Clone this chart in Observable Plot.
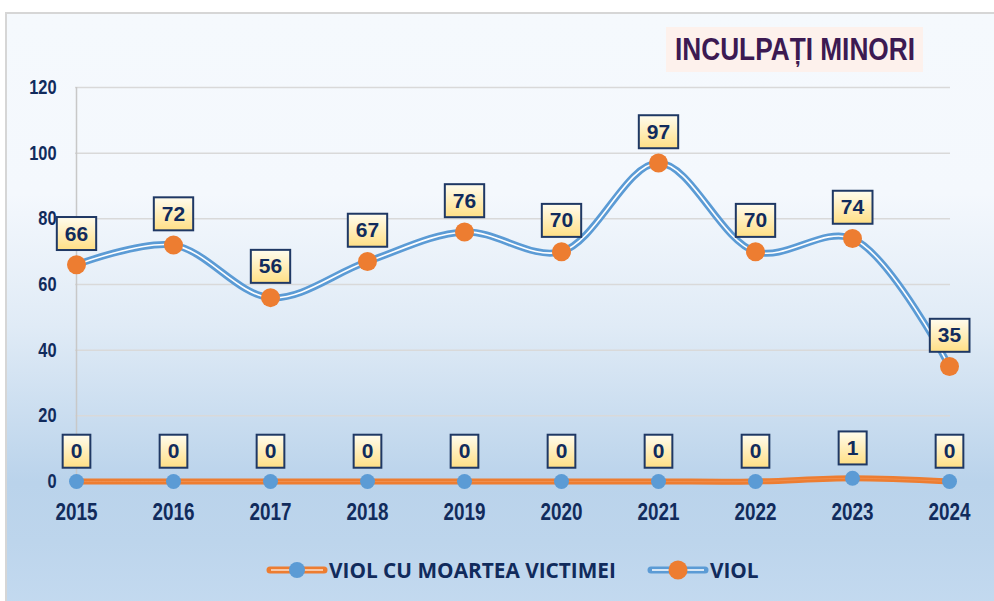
<!DOCTYPE html>
<html>
<head>
<meta charset="utf-8">
<script src="https://cdn.jsdelivr.net/npm/d3@7"></script>
<script src="https://cdn.jsdelivr.net/npm/@observablehq/plot@0.6"></script>
<style>
  html, body { margin: 0; padding: 0; background: #fff; }
  #wrap { position: relative; width: 994px; height: 601px; overflow: hidden; }
  #frame { position: absolute; left: 5px; top: 12px; width: 1000px; height: 600px;
    border-left: 2px solid #d6d6d6; border-top: 2px solid #d6d6d6;
    background: linear-gradient(to bottom, #f5f9fd 0%, #f4f8fd 30%, #e0ebf6 52%, #bad3eb 78%, #bdd5ec 88%, #c4daf0 100%); }
  #title { position: absolute; left: 666px; top: 27px; width: 257px; height: 45px; background: #fdf1ec;
    font-family: "Liberation Sans", Arial, sans-serif; font-weight: bold;
    font-size: 32px; color: #3c1a52; line-height: 45px; white-space: nowrap; }
  #title span { position: absolute; left: 50%; top: 0; transform: translateX(-50%) scaleX(0.82); transform-origin: center; }
  #chart { position: absolute; left: 0; top: 0; }
  #legend { position: absolute; left: 266px; top: 556px; display: flex; align-items: center;
    font-family: "Open Sans", sans-serif; font-weight: bold; font-size: 20.8px; color: #112b5c; }
  #legend .item { display: flex; align-items: center; margin-right: 31px; }
  #legend svg { display: block; margin-right: 1px; }
</style>
</head>
<body>
<div id="wrap">
  <div id="frame"></div>
  <div id="chart"></div>
  <div id="title"><span>INCULPAȚI MINORI</span></div>
  <div id="legend"></div>
</div>
<script>
const years = ["2015","2016","2017","2018","2019","2020","2021","2022","2023","2024"];
const viol = [66, 72, 56, 67, 76, 70, 97, 70, 74, 35];
const violMoarte = [0, 0, 0, 0, 0, 0, 0, 0, 1, 0];
const yTicks = [0, 20, 40, 60, 80, 100, 120];
const seriesNames = ["VIOL CU MOARTEA VICTIMEI", "VIOL"];

const dViol = years.map((y, i) => ({year: y, value: viol[i]}));
const dMoarte = years.map((y, i) => ({year: y, value: violMoarte[i]}));

const navy = "#112b5c";
const blue = "#5b9bd5";
const orange = "#ed7d31";

const chart = Plot.plot({
  width: 994,
  height: 601,
  marginLeft: 75,
  marginRight: 44,
  marginTop: 87,
  marginBottom: 120,
  style: {background: "transparent", fontFamily: "'Liberation Sans', Arial, sans-serif"},
  x: {type: "point", domain: years, padding: 0, axis: null},
  y: {domain: [0, 120], axis: null},
  marks: [
    Plot.gridY(yTicks.filter(t => t > 0), {stroke: "#d9d9d9", strokeOpacity: 1, strokeWidth: 1.5}),
    Plot.ruleX(["2015"], {y1: 0, y2: 120, stroke: "#c8c8c8", strokeWidth: 1.5}),
    Plot.axisY({ticks: yTicks, label: null, tickSize: 0, tickPadding: 19, fontSize: 20, fontWeight: "bold", fill: navy}),
    Plot.axisX({label: null, tickSize: 0, tickPadding: 22, fontSize: 23, fontWeight: "bold", fill: navy}),
    // VIOL CU MOARTEA VICTIMEI
    Plot.line(dMoarte, {x: "year", y: "value", curve: "catmull-rom", stroke: orange, strokeWidth: 6}),
    Plot.line(dMoarte, {x: "year", y: "value", curve: "catmull-rom", stroke: "#f3a877", strokeWidth: 0.8, strokeOpacity: 0.5}),
    Plot.dot(dMoarte, {x: "year", y: "value", r: 7.5, fill: blue}),
    // VIOL
    Plot.line(dViol, {x: "year", y: "value", curve: "catmull-rom", stroke: blue, strokeWidth: 7}),
    Plot.line(dViol, {x: "year", y: "value", curve: "catmull-rom", stroke: "#ffffff", strokeWidth: 1.6}),
    Plot.dot(dViol, {x: "year", y: "value", r: 9.5, fill: orange}),
    // labels
    Plot.text(dMoarte, {x: "year", y: "value", text: d => String(d.value), dy: -30, fontSize: 21, fontWeight: "bold", fill: navy}),
    Plot.text(dViol, {x: "year", y: "value", text: d => String(d.value), dy: -31, fontSize: 21, fontWeight: "bold", fill: navy})
  ]
});
document.getElementById("chart").append(chart);

const svg = d3.select(chart);
// condense axis tick labels (narrow font look)
svg.selectAll('g[aria-label="y-axis tick label"] text, g[aria-label="x-axis tick label"] text').each(function() {
  const len = this.getComputedTextLength();
  this.setAttribute("textLength", (len * 0.82).toFixed(2));
  this.setAttribute("lengthAdjust", "spacingAndGlyphs");
});

// label boxes
const defs = svg.insert("defs", ":first-child");
const grad = defs.append("linearGradient").attr("id", "lblGrad").attr("x1", 0).attr("y1", 0).attr("x2", 0).attr("y2", 1);
grad.append("stop").attr("offset", "0%").attr("stop-color", "#fffcee");
grad.append("stop").attr("offset", "100%").attr("stop-color", "#ffdf85");
svg.selectAll('g[aria-label="text"] text').each(function() {
  const bb = this.getBBox();
  const cy = bb.y + bb.height / 2 + 0.5;
  const r = document.createElementNS("http://www.w3.org/2000/svg", "rect");
  r.setAttribute("x", bb.x - 8);
  r.setAttribute("y", cy - 16.5);
  r.setAttribute("width", bb.width + 16);
  r.setAttribute("height", 33);
  r.setAttribute("fill", "url(#lblGrad)");
  r.setAttribute("stroke", "#1f3864");
  r.setAttribute("stroke-width", 2);
  const t = this.getAttribute("transform");
  if (t) r.setAttribute("transform", t);
  this.parentNode.insertBefore(r, this);
});

// legend
const legend = d3.select("#legend");
function swatch(item, lineColor, innerColor, dotColor, dotR) {
  const s = item.append("svg").attr("width", 62).attr("height", 22);
  s.append("line").attr("x1", 4).attr("x2", 58).attr("y1", 11).attr("y2", 11)
    .attr("stroke", lineColor).attr("stroke-width", 7).attr("stroke-linecap", "round");
  s.append("line").attr("x1", 5).attr("x2", 57).attr("y1", 11).attr("y2", 11)
    .attr("stroke", innerColor).attr("stroke-width", 1.6);
  s.append("circle").attr("cx", 31).attr("cy", 11).attr("r", dotR).attr("fill", dotColor);
}
const it1 = legend.append("div").attr("class", "item");
swatch(it1, orange, "#fbe0cc", blue, 8);
it1.append("span").text(seriesNames[0]);
const it2 = legend.append("div").attr("class", "item");
swatch(it2, blue, "#ffffff", orange, 9.5);
it2.append("span").text(seriesNames[1]);
</script>
</body>
</html>
